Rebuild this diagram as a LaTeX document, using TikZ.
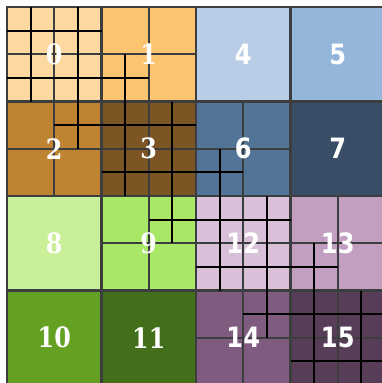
\documentclass[tikz,border=0pt]{standalone}
\usepackage{fontspec}
\newfontfamily\serifnum[FakeStretch=0.85]{DejaVu Serif}
\newfontfamily\sansnum[FakeStretch=0.86]{DejaVu Sans}
\usetikzlibrary{calc}
\definecolor{gridgray}{HTML}{3B3D3E}
\definecolor{q0}{HTML}{FDD9A1}
\definecolor{q1}{HTML}{FDC470}
\definecolor{q2}{HTML}{BE8432}
\definecolor{q3}{HTML}{7D5424}
\definecolor{q4}{HTML}{B9CEE6}
\definecolor{q5}{HTML}{94B6DB}
\definecolor{q6}{HTML}{527497}
\definecolor{q7}{HTML}{394E66}
\definecolor{q8}{HTML}{C9EF99}
\definecolor{q9}{HTML}{A9E766}
\definecolor{q10}{HTML}{64A123}
\definecolor{q11}{HTML}{436E1A}
\definecolor{q12}{HTML}{D8C1D8}
\definecolor{q13}{HTML}{C29FC1}
\definecolor{q14}{HTML}{7F5B7F}
\definecolor{q15}{HTML}{573D57}
\begin{document}
\begin{tikzpicture}[x=1pt,y=-1pt,
  cell/.style={draw=gridgray,line width=2.3pt,inner sep=0pt,outer sep=0pt,minimum size=94.5pt},
  sub/.style={draw=gridgray,line width=2pt},
  over/.style={draw=black,line width=1.9pt},
  lblL/.style={text=white,inner sep=0pt,font=\serifnum\bfseries\fontsize{28}{30}\selectfont},
  lblR/.style={text=white,inner sep=0pt,font=\sansnum\bfseries\fontsize{28}{30}\selectfont}]
\useasboundingbox (0,0) rectangle (381,383);
% cells
\foreach \n/\c/\r in {0/0/0,1/1/0,2/0/1,3/1/1,4/2/0,5/3/0,6/2/1,7/3/1,8/0/2,9/1/2,10/0/3,11/1/3,12/2/2,13/3/2,14/2/3,15/3/3}{
  \node[cell,fill=q\n] (c\n) at ({54.25+94.5*\c},{54.25+94.5*\r}) {};
}
% 4x4 subdivisions
\foreach \n in {0,3,12,15}{
  \foreach \f in {0.25,0.5,0.75}{
    \draw[sub] ($(c\n.north west)!\f!(c\n.north east)$) -- ($(c\n.south west)!\f!(c\n.south east)$);
    \draw[sub] ($(c\n.north west)!\f!(c\n.south west)$) -- ($(c\n.north east)!\f!(c\n.south east)$);
  }
}
% 2x2 subdivisions
\foreach \n in {1,2,6,9,13,14}{
  \draw[sub] (c\n.north) -- (c\n.south);
  \draw[sub] (c\n.west) -- (c\n.east);
}
% black overlay lines
\foreach \k in {1,3,...,15}{
  \pgfmathsetmacro\lo{max(0,\k-3)}
  \pgfmathsetmacro\hi{min(16,\k+3)}
  \draw[over] ({7+23.625*\lo},{7+23.625*\k}) -- ({7+23.625*\hi},{7+23.625*\k});
  \draw[over] ({7+23.625*\k},{7+23.625*\lo}) -- ({7+23.625*\k},{7+23.625*\hi});
}
% labels
\foreach \n in {0,1,2,3,8,9,10,11}{
  \node[lblL] (t\n) at (c\n.center) {\n};
}
\foreach \n in {4,5,6,7,12,13,14,15}{
  \node[lblR] (t\n) at (c\n.center) {\n};
}
\end{tikzpicture}
\end{document}
